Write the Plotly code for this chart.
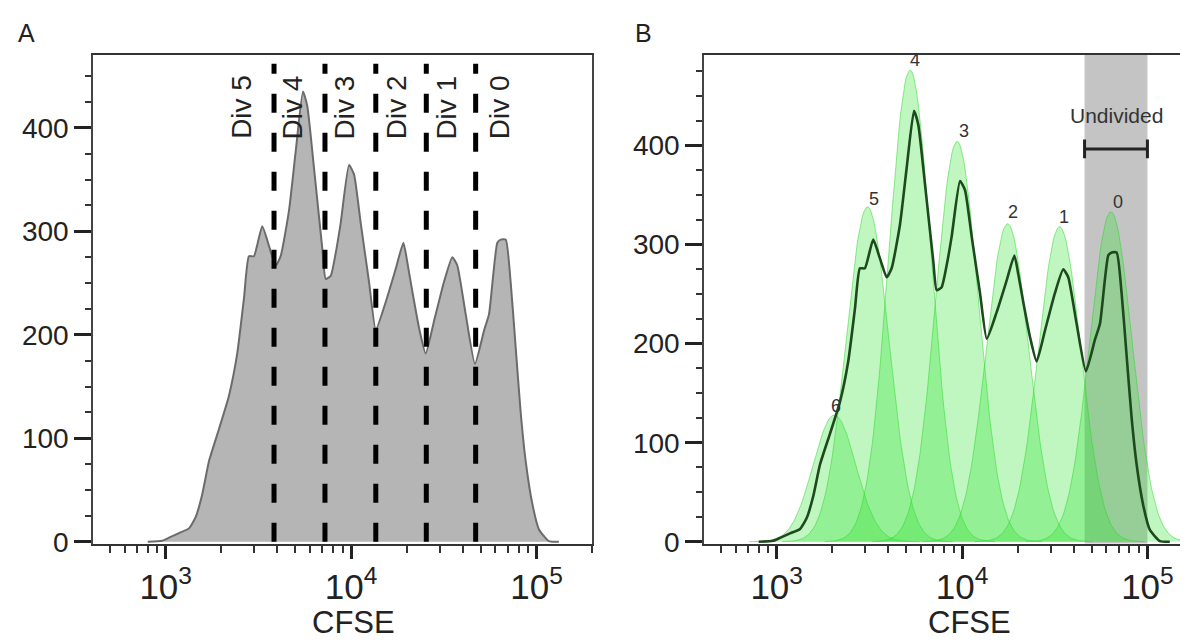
import numpy as np
import plotly.graph_objects as go

# ---------------- data ----------------
# CFSE histogram (panel A fill, panel B dark line)
CFSE = [800, 955, 1042, 1180, 1336, 1452, 1575, 1713, 1938, 2193, 2432, 2643, 2812, 2991,
        3317, 3606, 3920, 4170, 4624, 5024, 5503, 5805, 6310, 6996, 7295, 7762, 8259, 8788,
        9750, 10370, 11270, 12500, 13590, 15390, 17420, 19150, 20110, 21390, 23240, 25250,
        27990, 31690, 35150, 37400, 41500, 46560, 52100, 55450, 61480, 64130, 68220, 72550,
        77200, 82180, 87450, 94890, 103100, 116700, 132000]
COUNT = [0, 1, 4, 8.5, 13, 24, 46, 78, 109, 141, 182, 235, 276, 276,
         305, 286, 267, 276, 320, 377, 435, 421, 361, 283, 254, 257, 279, 308,
         364, 355, 308, 251, 205, 232, 264, 289, 270, 242, 207, 182,
         213, 251, 275, 267, 220, 172, 204, 220, 289, 292, 292, 251,
         188, 125, 78, 37, 12, 0.7, 0]

# Division gates (panel A)
DIV_GATES = [3840, 7230, 13590, 25450, 46980]
DIV_LABELS = ["Div 5", "Div 4", "Div 3", "Div 2", "Div 1", "Div 0"]
DIV_LABEL_X = [2540, 4820, 9200, 17500, 32700, 62800]
DIV_LABEL_Y = 420

# Fitted generation peaks (panel B): centre, height, log10 SD
GENERATIONS = ["6", "5", "4", "3", "2", "1", "0"]
PEAK_CENTER = [2050, 3090, 5240, 9400, 17600, 33600, 63500]
PEAK_HEIGHT = [128, 338, 476, 404, 321, 318, 333]
PEAK_SD_LOG = [0.115, 0.115, 0.115, 0.115, 0.115, 0.115, 0.115]
PEAK_LABEL_X = [2095, 3330, 5570, 10200, 18900, 35500, 69800]
PEAK_LABEL_Y = [137, 346, 486, 415, 333, 328, 343]

# Undivided gate (panel B)
UNDIVIDED = [45800, 100000]
UNDIVIDED_BAR_Y = 396.5
UNDIVIDED_LABEL = "Undivided"
UNDIVIDED_LABEL_Y = 430

# ---------------- figure ----------------
W, H = 1188, 644
FONT = "Liberation Sans, Arial, Helvetica, sans-serif"
TXT = "#222222"

fig = go.Figure()

# Panel A histogram
fig.add_trace(go.Scatter(x=CFSE, y=COUNT, mode="lines", fill="tozeroy",
                         fillcolor="#b5b5b5",
                         line=dict(color="#6b6b6b", width=2, shape="spline", smoothing=0.5),
                         xaxis="x", yaxis="y", hoverinfo="skip"))

# Panel B fitted peaks
for c, h, s in zip(PEAK_CENTER, PEAK_HEIGHT, PEAK_SD_LOG):
    lc = np.log10(c)
    lx = np.linspace(lc - 4 * s, lc + 4 * s, 120)
    fig.add_trace(go.Scatter(x=10 ** lx, y=h * np.exp(-0.5 * ((lx - lc) / s) ** 2),
                             mode="lines", fill="tozeroy",
                             fillcolor="rgba(45,225,45,0.30)",
                             line=dict(color="rgba(40,215,40,0.5)", width=1),
                             xaxis="x2", yaxis="y2", hoverinfo="skip"))

# Panel B histogram line
fig.add_trace(go.Scatter(x=CFSE, y=COUNT, mode="lines",
                         line=dict(color="#1c4a1c", width=2.6, shape="spline", smoothing=0.5),
                         xaxis="x2", yaxis="y2", hoverinfo="skip"))

shapes = []
for g in DIV_GATES:
    shapes.append(dict(type="line", xref="x", yref="y", x0=g, x1=g, y0=0, y1=462,
                       line=dict(color="black", width=5, dash="19px,20px")))
# Undivided band
shapes.append(dict(type="rect", xref="x2", yref="y2 domain", x0=UNDIVIDED[0], x1=UNDIVIDED[1],
                   y0=0, y1=1, fillcolor="#c4c4c4", line=dict(width=0), layer="below"))
# Undivided bracket
shapes.append(dict(type="line", xref="x2", yref="y2", x0=UNDIVIDED[0], x1=UNDIVIDED[1],
                   y0=UNDIVIDED_BAR_Y, y1=UNDIVIDED_BAR_Y, line=dict(color="#222", width=3)))
for xe in UNDIVIDED:
    shapes.append(dict(type="line", xref="x2", yref="y2", x0=xe, x1=xe,
                       y0=UNDIVIDED_BAR_Y - 9.5, y1=UNDIVIDED_BAR_Y + 9.5,
                       line=dict(color="#222", width=3)))

ann = []
for lab, x in zip(DIV_LABELS, DIV_LABEL_X):
    ann.append(dict(xref="x", yref="y", x=np.log10(x), y=DIV_LABEL_Y, text=lab,
                    textangle=-90, showarrow=False, xanchor="center", yanchor="middle",
                    font=dict(family=FONT, size=28, color=TXT)))
for lab, x, y in zip(GENERATIONS, PEAK_LABEL_X, PEAK_LABEL_Y):
    ann.append(dict(xref="x2", yref="y2", x=np.log10(x), y=y, text=lab, showarrow=False,
                    xanchor="center", yanchor="middle",
                    font=dict(family=FONT, size=18, color="#333")))
ann.append(dict(xref="x2", yref="y2", x=np.mean(np.log10(UNDIVIDED)), y=UNDIVIDED_LABEL_Y,
                text=UNDIVIDED_LABEL, showarrow=False, xanchor="center", yanchor="middle",
                font=dict(family=FONT, size=21, color="#333")))
# axis titles and panel letters
for xp, t in [(345 / W, "CFSE"), (961 / W, "CFSE")]:
    ann.append(dict(xref="paper", yref="paper", x=xp, y=(H - 628) / H, text=t,
                    showarrow=False, xanchor="center", yanchor="middle",
                    font=dict(family=FONT, size=31, color=TXT)))
for xp, t in [(18 / W, "A"), (635 / W, "B")]:
    ann.append(dict(xref="paper", yref="paper", x=xp, y=(H - 26) / H, text=t,
                    showarrow=False, xanchor="center", yanchor="middle",
                    font=dict(family=FONT, size=25, color=TXT)))

ydom = [(H - 547.5) / H, (H - 47.7) / H]


def xaxis(dom, rng, mirror):
    return dict(domain=dom, type="log", range=rng, dtick=1, exponentformat="power",
                showexponent="all", ticks="outside", ticklen=13, tickwidth=2.5,
                tickcolor="#222", showline=True, linecolor="#333", linewidth=2,
                mirror=mirror, showgrid=False, zeroline=False,
                tickfont=dict(family=FONT, size=28, color=TXT),
                minor=dict(ticks="outside", ticklen=7, tickwidth=1.8, tickcolor="#333",
                           dtick="D1", showgrid=False))


def yaxis(rng, anchor, mirror):
    return dict(domain=ydom, range=rng, anchor=anchor, dtick=100, tick0=0,
                ticks="outside", ticklen=17, tickwidth=2.8, tickcolor="#222",
                showline=True, linecolor="#444", linewidth=1.6, mirror=mirror,
                showgrid=False, zeroline=False,
                tickfont=dict(family=FONT, size=28, color=TXT),
                minor=dict(ticks="outside", ticklen=6, tickwidth=1.6, tickcolor="#333",
                           dtick=25, showgrid=False))


fig.update_layout(
    width=W, height=H, margin=dict(l=0, r=0, t=0, b=0),
    paper_bgcolor="white", plot_bgcolor="white", showlegend=False,
    xaxis=dict(**xaxis([85 / W, 584.3 / W], [2.608, 5.301], True), anchor="y"),
    yaxis=yaxis([-1.7, 470.7], "x", True),
    xaxis2=dict(**xaxis([696 / W, 1.0], [2.608, 5.262], True), anchor="y2"),
    yaxis2=yaxis([-1.8, 491.6], "x2", False),
    shapes=shapes, annotations=ann,
)

fig.write_html("out.html")
